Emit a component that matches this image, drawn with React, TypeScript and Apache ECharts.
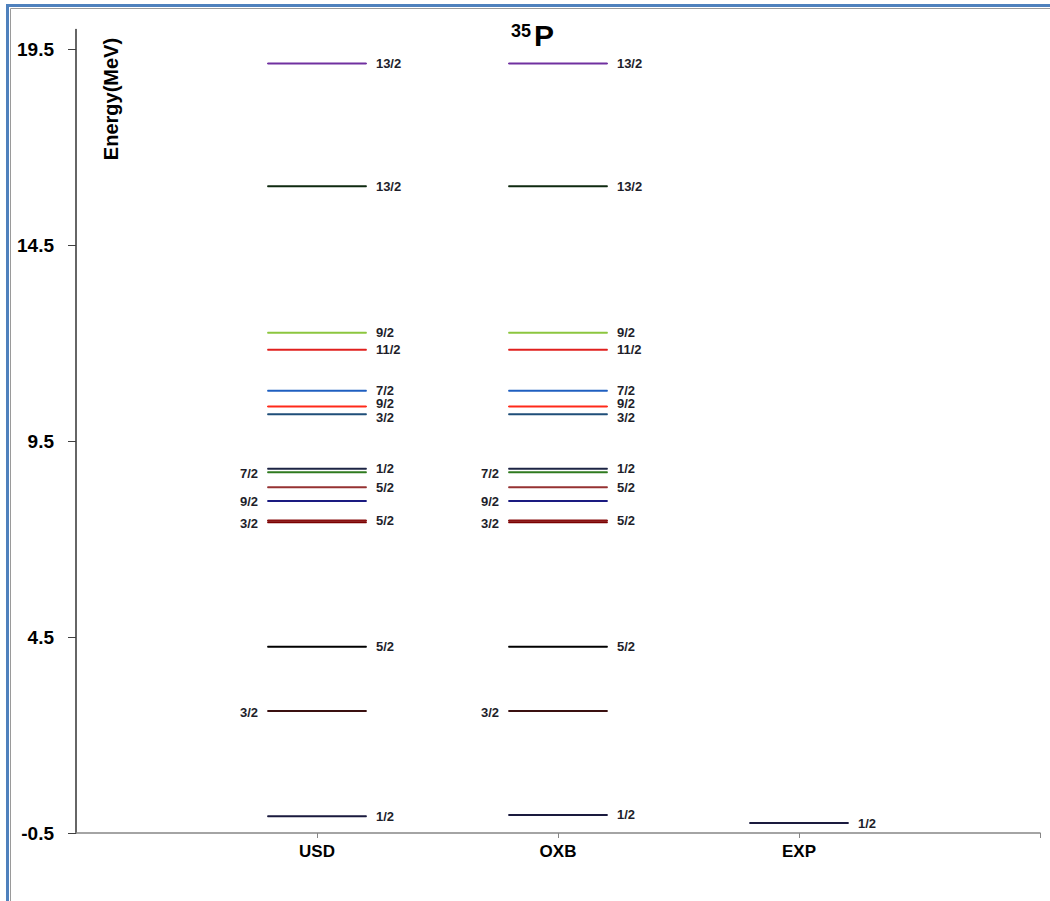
import React, { useEffect, useRef } from "react";
import * as echarts from "echarts";

// ---- data ----
const models = ["USD", "OXB", "EXP"];
const modelPositions = [1, 2, 3];

const usdEnergies = [19.13, 16.0, 12.26, 11.83, 10.78, 10.38, 10.18, 8.79, 8.7, 8.32, 7.97, 7.47, 7.43, 4.25, 2.61, -0.07];
const oxbEnergies = [19.13, 16.0, 12.26, 11.83, 10.78, 10.38, 10.18, 8.79, 8.7, 8.32, 7.97, 7.47, 7.43, 4.25, 2.61, -0.04];
const expEnergies = [-0.245];

const usdSpins = ["13/2", "13/2", "9/2", "11/2", "7/2", "9/2", "3/2", "1/2", "7/2", "5/2", "9/2", "5/2", "3/2", "5/2", "3/2", "1/2"];
const oxbSpins = ["13/2", "13/2", "9/2", "11/2", "7/2", "9/2", "3/2", "1/2", "7/2", "5/2", "9/2", "5/2", "3/2", "5/2", "3/2", "1/2"];
const expSpins = ["1/2"];

const yTickValues = [-0.5, 4.5, 9.5, 14.5, 19.5];

// ---- styles ----
const levelColors = [
  "#7030A0", "#0F2A10", "#8CC63F", "#E0201E", "#1F5FC0", "#FF2A1A", "#1F4E79", "#1C2444",
  "#2F7A1F", "#963232", "#1A1A80", "#8A1010", "#7A0000", "#000000", "#3A1010", "#1A1A3E",
];
const expColors = ["#1A1A3E"];
const labelSides = [
  "right", "right", "right", "right", "right", "right", "right", "right",
  "left", "right", "left", "right", "left", "right", "left", "right",
];
const labelNudges = [0, 0, 0, 0, 0, -3.5, 3.5, 0, 1.5, 0, 1, 0, 1.5, 0, 1.5, 0];
const expSides = ["right"];
const expNudges = [0];

const FONT = "'Liberation Sans', Arial, sans-serif";
const HALF = 0.205;

function levelSeries(center: number, energies: number[], spins: string[], colors: string[], sides: string[], nudges: number[]) {
  return energies.map((e, i) => {
    const left = sides[i] === "left";
    const lbl = {
      formatter: spins[i],
      fontFamily: FONT,
      fontWeight: "bold",
      fontSize: 13,
      color: "#1e1e2a",
      distance: 9,
      offset: [0, nudges[i]],
    };
    return {
      type: "line",
      silent: true,
      symbol: "rect",
      symbolSize: 1,
      showSymbol: true,
      lineStyle: { color: colors[i], width: 2 },
      itemStyle: { color: colors[i] },
      data: [
        { value: [center - HALF, e], label: { ...lbl, show: left, position: "left" } },
        { value: [center + HALF, e], label: { ...lbl, show: !left, position: "right" } },
      ],
    };
  });
}

export default function App() {
  const ref = useRef<HTMLDivElement>(null);
  useEffect(() => {
    if (!ref.current) return;
    const chart = echarts.init(ref.current, undefined, { renderer: "svg" });
    const series = [
      ...levelSeries(modelPositions[0], usdEnergies, usdSpins, levelColors, labelSides, labelNudges),
      ...levelSeries(modelPositions[1], oxbEnergies, oxbSpins, levelColors, labelSides, labelNudges),
      ...levelSeries(modelPositions[2], expEnergies, expSpins, expColors, expSides, expNudges),
    ];
    chart.setOption({
      animation: false,
      backgroundColor: "#ffffff",
      grid: { left: 76, right: 10, top: 29.4, bottom: 68, containLabel: false },
      xAxis: {
        type: "value",
        min: 0,
        max: 4,
        interval: 1,
        splitLine: { show: false },
        axisLine: { show: true, onZero: false, lineStyle: { color: "#868686", width: 1.5 } },
        axisTick: { show: true, length: 5, customValues: [1, 2, 3, 4], lineStyle: { color: "#868686" } },
        axisLabel: {
          customValues: modelPositions,
          formatter: (v: number) => {
            const i = modelPositions.indexOf(v);
            return i >= 0 ? models[i] : "";
          },
          fontFamily: FONT,
          fontWeight: "bold",
          fontSize: 17,
          color: "#000",
          margin: 10,
        },
      },
      yAxis: {
        type: "value",
        min: -0.5,
        max: 20,
        interval: 5,
        splitLine: { show: false },
        axisLine: { show: true, onZero: false, lineStyle: { color: "#333333", width: 1.5 } },
        axisTick: { show: true, length: 8, customValues: yTickValues, lineStyle: { color: "#404040" } },
        axisLabel: {
          customValues: yTickValues,
          formatter: (v: number) => v.toFixed(1),
          fontFamily: FONT,
          fontWeight: "bold",
          fontSize: 19,
          color: "#000",
          margin: 22,
        },
      },
      graphic: [
        { type: "rect", shape: { x: 7.5, y: 5.5, width: 1200, height: 1200 }, style: { fill: "none", stroke: "#4F81BD", lineWidth: 3 }, silent: true },
        { type: "rect", shape: { x: 10.5, y: 8.5, width: 1200, height: 1200 }, style: { fill: "none", stroke: "#9a9a9a", lineWidth: 1 }, silent: true },
        { type: "text", x: 511, y: 22, style: { text: "35", font: `bold 18px ${FONT}`, fill: "#000" }, silent: true },
        { type: "text", x: 534, y: 50, style: { text: "P", font: `bold 30px ${FONT}`, fill: "#000", verticalAlign: "bottom" }, silent: true },
        {
          type: "text",
          x: 111,
          y: 99,
          rotation: Math.PI / 2,
          style: { text: "Energy(MeV)", font: `bold 20px ${FONT}`, fill: "#000", align: "center", verticalAlign: "middle" },
          silent: true,
        },
      ],
      series,
    });
    return () => chart.dispose();
  }, []);
  return <div ref={ref} style={{ position: "fixed", left: 0, top: 0, width: 1050, height: 901 }} />;
}
